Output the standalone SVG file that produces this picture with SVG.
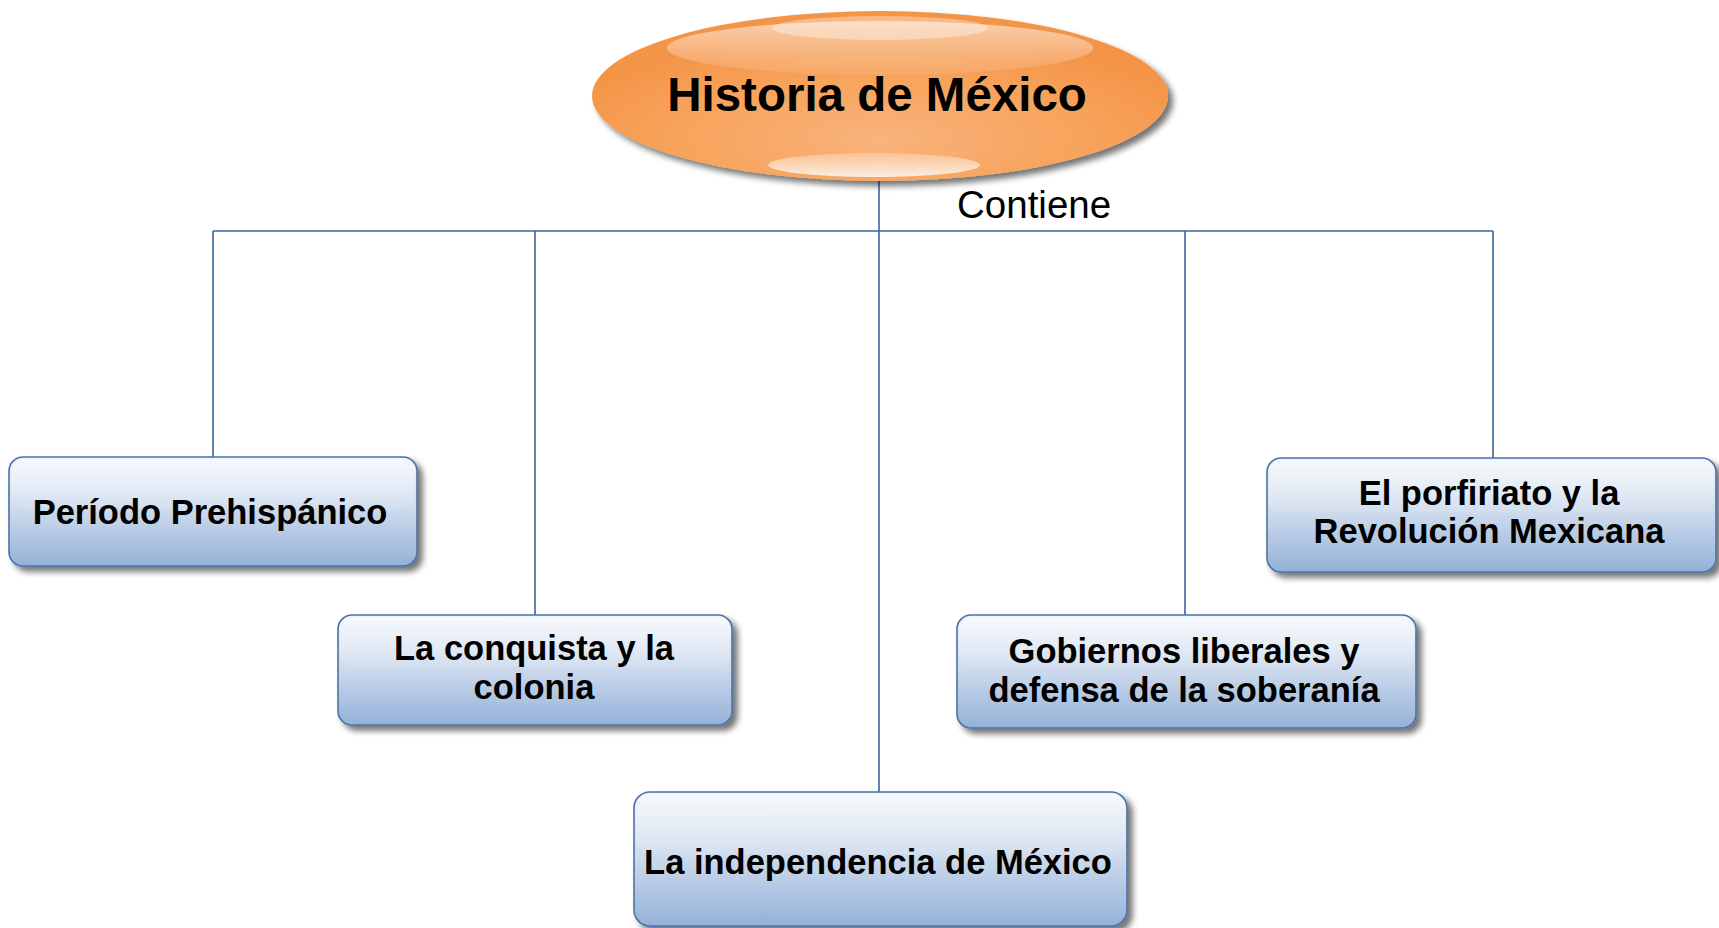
<svg xmlns="http://www.w3.org/2000/svg" width="1719" height="928" viewBox="0 0 1719 928">
<defs>
  <linearGradient id="boxGrad" x1="0" y1="0" x2="0" y2="1">
    <stop offset="0" stop-color="#edf2f9"/>
    <stop offset="0.45" stop-color="#d1ddee"/>
    <stop offset="1" stop-color="#94b1d8"/>
  </linearGradient>
  <linearGradient id="gloss" x1="0" y1="0" x2="0" y2="1">
    <stop offset="0" stop-color="#ffffff" stop-opacity="0.5"/>
    <stop offset="1" stop-color="#ffffff" stop-opacity="0.05"/>
  </linearGradient>
  <radialGradient id="ellGrad" cx="0.5" cy="0.75" r="0.6">
    <stop offset="0" stop-color="#f9b37c"/>
    <stop offset="0.6" stop-color="#f7a35b"/>
    <stop offset="1" stop-color="#f49447"/>
  </radialGradient>
  <linearGradient id="hiTop" x1="0" y1="0" x2="0" y2="1">
    <stop offset="0" stop-color="#ffffff" stop-opacity="0.55"/>
    <stop offset="1" stop-color="#ffffff" stop-opacity="0.08"/>
  </linearGradient>
  <linearGradient id="hiBot" x1="0" y1="0" x2="0" y2="1">
    <stop offset="0" stop-color="#ffffff" stop-opacity="0.25"/>
    <stop offset="1" stop-color="#ffffff" stop-opacity="0.8"/>
  </linearGradient>
  <filter id="shadow" x="-10%" y="-10%" width="125%" height="135%">
    <feGaussianBlur in="SourceAlpha" stdDeviation="3"/>
    <feOffset dx="5" dy="5" result="b"/>
    <feComponentTransfer><feFuncA type="linear" slope="0.55"/></feComponentTransfer>
    <feMerge><feMergeNode/><feMergeNode in="SourceGraphic"/></feMerge>
  </filter>
</defs>
<style>
  .conn { stroke:#3d65a0; stroke-width:1.6; fill:none; }
  .box { fill:url(#boxGrad); stroke:#4c73a6; stroke-width:1.6; }
  .lbl { font-family:"Liberation Sans", Arial, sans-serif; font-weight:bold; font-size:34.5px; fill:#000; text-anchor:middle; }
</style>
<rect width="1719" height="928" fill="#ffffff"/>

<g id="connectors">
  <line class="conn" x1="879" y1="181" x2="879" y2="792"/>
  <line class="conn" x1="213" y1="231" x2="1493" y2="231"/>
  <line class="conn" x1="213" y1="231" x2="213" y2="457"/>
  <line class="conn" x1="535" y1="231" x2="535" y2="615"/>
  <line class="conn" x1="1185" y1="231" x2="1185" y2="615"/>
  <line class="conn" x1="1493" y1="231" x2="1493" y2="458"/>
  <text x="957" y="218" font-family="Liberation Sans, Arial, sans-serif" font-size="38.5" fill="#000">Contiene</text>
</g>

<g id="root">
  <ellipse cx="880" cy="96" rx="288" ry="85" fill="url(#ellGrad)" filter="url(#shadow)"/>
  <ellipse cx="880" cy="48" rx="213" ry="27" fill="url(#hiTop)"/>
  <ellipse cx="880" cy="28" rx="108" ry="12" fill="#ffffff" fill-opacity="0.35"/>
  <ellipse cx="874" cy="165" rx="106" ry="12" fill="url(#hiBot)"/>
  <text x="877" y="111" font-family="Liberation Sans, Arial, sans-serif" font-weight="bold" font-size="47.5" fill="#000" text-anchor="middle">Historia de México</text>
</g>

<g id="n1">
  <rect class="box" x="9" y="457" width="408" height="109" rx="14" filter="url(#shadow)"/>
  <rect x="11" y="459" width="404" height="50" rx="12" fill="url(#gloss)"/>
  <text class="lbl" x="210" y="524">Período Prehispánico</text>
</g>

<g id="n2">
  <rect class="box" x="338" y="615" width="394" height="110" rx="14" filter="url(#shadow)"/>
  <rect x="340" y="617" width="390" height="50" rx="12" fill="url(#gloss)"/>
  <text class="lbl" x="534" y="660">La conquista y la</text>
  <text class="lbl" x="534" y="699">colonia</text>
</g>

<g id="n3">
  <rect class="box" x="634" y="792" width="493" height="134" rx="16" filter="url(#shadow)"/>
  <rect x="636" y="794" width="489" height="60" rx="14" fill="url(#gloss)"/>
  <text class="lbl" x="878" y="874">La independencia de México</text>
</g>

<g id="n4">
  <rect class="box" x="957" y="615" width="459" height="113" rx="14" filter="url(#shadow)"/>
  <rect x="959" y="617" width="455" height="52" rx="12" fill="url(#gloss)"/>
  <text class="lbl" x="1184" y="663">Gobiernos liberales y</text>
  <text class="lbl" x="1184" y="702">defensa de la soberanía</text>
</g>

<g id="n5">
  <rect class="box" x="1267" y="458" width="449" height="114" rx="14" filter="url(#shadow)"/>
  <rect x="1269" y="460" width="445" height="52" rx="12" fill="url(#gloss)"/>
  <text class="lbl" x="1489" y="505">El porfiriato y la</text>
  <text class="lbl" x="1489" y="543">Revolución Mexicana</text>
</g>
</svg>
